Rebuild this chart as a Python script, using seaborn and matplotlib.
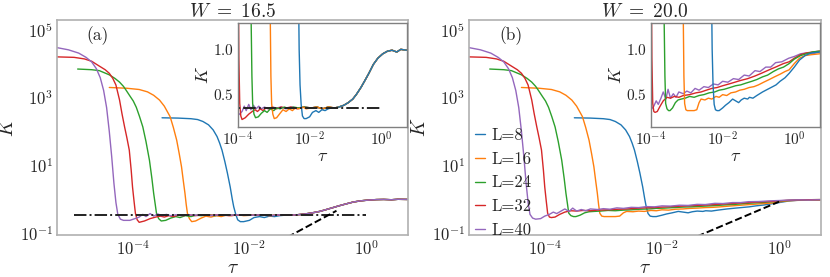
import pandas as pd
import seaborn as sns
import matplotlib
matplotlib.use('Agg')
import matplotlib.pyplot as plt
from matplotlib.ticker import NullLocator

# system sizes
sizes = ['L=8', 'L=16', 'L=24', 'L=32', 'L=40']

# early plateau + drop (same in both panels)
head_tau_8 = [3.2e-4, 6e-4, 1e-3, 1.3e-3, 1.6e-3, 2e-3, 2.4e-3, 2.8e-3, 3.1e-3, 3.4e-3, 3.8e-3, 4.2e-3, 4.7e-3, 5.1e-3, 5.4e-3, 5.8e-3]
head_k_8 = [250, 245, 235, 222, 195, 155, 110, 70, 45, 28, 13, 6, 2.3, 1.0, 0.6, 0.38]
head_tau_16 = [4e-5, 8e-5, 1.3e-4, 1.8e-4, 2.3e-4, 2.9e-4, 3.5e-4, 4.4e-4, 5e-4, 5.7e-4, 6.3e-4, 6.9e-4, 7.4e-4, 7.9e-4, 8.3e-4, 8.7e-4]
head_k_16 = [1950, 1850, 1700, 1450, 1150, 830, 550, 270, 130, 55, 22, 9, 3.5, 1.5, 0.7, 0.39]
head_tau_24 = [1.15e-5, 2e-5, 2.7e-5, 4e-5, 5e-5, 6e-5, 7e-5, 7.8e-5, 9e-5, 1.03e-4, 1.16e-4, 1.32e-4, 1.5e-4, 1.7e-4, 1.95e-4, 2.15e-4, 2.3e-4, 2.45e-4, 2.57e-4]
head_k_24 = [6800, 6500, 6100, 4600, 3600, 2800, 2100, 1600, 1100, 780, 510, 270, 135, 50, 14, 4, 1.5, 0.7, 0.39]
head_tau_32 = [5.1e-6, 1e-5, 1.5e-5, 2e-5, 2.7e-5, 3.4e-5, 4e-5, 4.6e-5, 5.2e-5, 6e-5, 6.6e-5, 7.3e-5, 8e-5, 8.8e-5, 9.5e-5, 1e-4, 1.06e-4, 1.12e-4]
head_k_32 = [15500, 15000, 13500, 11500, 8300, 6500, 5100, 3600, 2300, 830, 330, 137, 65, 28, 7, 2.3, 0.9, 0.39]
head_tau_40 = [5.1e-6, 8e-6, 1.2e-5, 1.6e-5, 2e-5, 2.4e-5, 2.8e-5, 3.2e-5, 3.6e-5, 4e-5, 4.4e-5, 4.8e-5, 5.2e-5, 5.6e-5]
head_k_40 = [29000, 25000, 20000, 15000, 11000, 7000, 3800, 1600, 500, 100, 18, 3, 0.8, 0.36]

# panel (a): W = 16.5, tails after the drop
tail_a_tau_8 = [6.3e-3, 7e-3, 8e-3, 1e-2, 1.2e-2, 1.5e-2, 1.8e-2, 2.2e-2, 2.7e-2, 3.3e-2, 4e-2]
tail_a_k_8 = [0.25, 0.22, 0.22, 0.24, 0.29, 0.31, 0.29, 0.32, 0.31, 0.33, 0.34]
tail_a_tau_16 = [9.4e-4, 1.03e-3, 1.2e-3, 1.5e-3, 1.8e-3, 2.2e-3, 2.7e-3, 3.3e-3, 4e-3, 5e-3, 6.5e-3, 8e-3, 1.1e-2, 1.6e-2, 2.3e-2, 3.3e-2]
tail_a_k_16 = [0.27, 0.22, 0.23, 0.28, 0.32, 0.30, 0.33, 0.31, 0.34, 0.33, 0.35, 0.33, 0.34, 0.35, 0.33, 0.35]
tail_a_tau_24 = [2.8e-4, 3.1e-4, 3.7e-4, 4.5e-4, 5.5e-4, 6.5e-4, 8e-4, 1e-3, 1.2e-3, 1.5e-3, 2e-3, 2.6e-3, 3.5e-3, 5e-3, 7e-3, 1.1e-2, 1.6e-2, 2.3e-2, 3.3e-2]
tail_a_k_24 = [0.27, 0.23, 0.24, 0.28, 0.31, 0.29, 0.33, 0.31, 0.34, 0.33, 0.35, 0.33, 0.35, 0.34, 0.35, 0.34, 0.35, 0.33, 0.35]
tail_a_tau_32 = [1.2e-4, 1.3e-4, 1.6e-4, 2e-4, 2.5e-4, 3e-4, 3.5e-4, 4.2e-4, 5e-4, 6e-4, 7.5e-4, 9e-4, 1.2e-3, 1.6e-3, 2.2e-3, 3e-3, 4.5e-3, 7e-3, 1.1e-2, 1.6e-2, 2.3e-2, 3.3e-2]
tail_a_k_32 = [0.25, 0.21, 0.23, 0.27, 0.30, 0.32, 0.30, 0.33, 0.31, 0.34, 0.33, 0.35, 0.33, 0.35, 0.34, 0.35, 0.33, 0.35, 0.34, 0.35, 0.33, 0.35]
tail_a_tau_40 = [6.2e-5, 7e-5, 9e-5, 1.1e-4, 1.3e-4, 1.5e-4, 1.7e-4, 2e-4, 2.3e-4, 2.7e-4, 3.2e-4, 3.8e-4, 4.5e-4, 5.5e-4, 7e-4, 9e-4, 1.2e-3, 1.6e-3, 2.2e-3, 3e-3, 4.5e-3, 7e-3, 1.1e-2, 1.6e-2, 2.3e-2, 3.3e-2]
tail_a_k_40 = [0.26, 0.24, 0.24, 0.27, 0.30, 0.36, 0.31, 0.38, 0.32, 0.37, 0.33, 0.36, 0.33, 0.35, 0.33, 0.35, 0.34, 0.35, 0.33, 0.35, 0.34, 0.35, 0.34, 0.35, 0.33, 0.35]
rise_a_tau = [5e-2, 6.5e-2, 9e-2, 0.12, 0.16, 0.2, 0.27, 0.35, 0.45, 0.6, 0.8, 1.1, 1.5, 2.0, 2.7, 3.5, 5.1]
rise_a_k = [0.34, 0.35, 0.37, 0.40, 0.44, 0.49, 0.57, 0.65, 0.73, 0.83, 0.90, 0.95, 0.98, 0.99, 0.97, 1.0, 0.99]

# panel (b): W = 20.0, tails after the drop
tail_b_tau_8 = [6.3e-3, 7e-3, 8e-3, 1e-2, 1.2e-2, 1.5e-2, 1.9e-2, 2.3e-2, 2.8e-2, 3.3e-2, 4e-2, 5e-2, 5.6e-2, 7e-2, 9e-2, 0.13, 0.18, 0.25, 0.31, 0.4, 0.55, 0.72, 1.0, 1.4, 2.0, 3.0, 5.1]
tail_b_k_8 = [0.32, 0.31, 0.31, 0.34, 0.37, 0.40, 0.44, 0.42, 0.40, 0.43, 0.45, 0.44, 0.46, 0.45, 0.48, 0.52, 0.55, 0.58, 0.60, 0.64, 0.68, 0.73, 0.80, 0.88, 0.93, 0.96, 0.97]
tail_b_tau_16 = [9.4e-4, 1.03e-3, 1.3e-3, 1.6e-3, 1.9e-3, 2.2e-3, 2.5e-3, 3.2e-3, 4e-3, 5e-3, 6.5e-3, 8e-3, 1e-2, 1.3e-2, 1.7e-2, 2.3e-2, 3e-2, 4e-2, 5.5e-2, 7.5e-2, 0.1, 0.14, 0.2, 0.28, 0.4, 0.55, 0.72, 1.0, 1.4, 2.0, 3.0, 5.1]
tail_b_k_16 = [0.32, 0.31, 0.31, 0.31, 0.32, 0.40, 0.44, 0.43, 0.45, 0.44, 0.47, 0.46, 0.49, 0.48, 0.51, 0.52, 0.54, 0.55, 0.57, 0.58, 0.60, 0.63, 0.66, 0.69, 0.72, 0.75, 0.77, 0.84, 0.90, 0.93, 0.94, 0.95]
tail_b_tau_24 = [2.8e-4, 3.1e-4, 3.4e-4, 4e-4, 4.8e-4, 5.7e-4, 7e-4, 9e-4, 1.2e-3, 1.6e-3, 2.2e-3, 3e-3, 4.2e-3, 6e-3, 8e-3, 1.1e-2, 1.6e-2, 2.3e-2, 3.2e-2, 4.5e-2, 6.5e-2, 9e-2, 0.13, 0.18, 0.26, 0.36, 0.5, 0.72, 1.0, 1.5, 2.2, 3.2, 5.1]
tail_b_k_24 = [0.33, 0.31, 0.31, 0.34, 0.40, 0.43, 0.44, 0.45, 0.47, 0.46, 0.48, 0.49, 0.51, 0.52, 0.54, 0.55, 0.57, 0.59, 0.60, 0.62, 0.64, 0.66, 0.69, 0.71, 0.75, 0.78, 0.80, 0.84, 0.89, 0.93, 0.95, 0.97, 0.98]
tail_b_tau_32 = [1.2e-4, 1.3e-4, 1.5e-4, 1.8e-4, 2.2e-4, 2.8e-4, 3.5e-4, 4.5e-4, 6e-4, 8e-4, 1.2e-3, 1.8e-3, 2.5e-3, 3.5e-3, 5e-3, 7e-3, 1e-2, 1.5e-2, 2.2e-2, 3.2e-2, 5e-2, 8e-2, 0.12, 0.2, 0.3, 0.5, 0.72, 1.0, 1.5, 2.2, 3.2, 5.1]
tail_b_k_32 = [0.30, 0.29, 0.30, 0.36, 0.42, 0.46, 0.45, 0.47, 0.46, 0.48, 0.49, 0.51, 0.52, 0.54, 0.56, 0.57, 0.59, 0.61, 0.63, 0.65, 0.67, 0.70, 0.73, 0.77, 0.80, 0.84, 0.86, 0.90, 0.94, 0.96, 0.97, 0.98]
tail_b_tau_40 = [6.2e-5, 7e-5, 8.5e-5, 1e-4, 1.2e-4, 1.4e-4, 1.6e-4, 1.9e-4, 2.2e-4, 2.6e-4, 3e-4, 3.5e-4, 4.2e-4, 5e-4, 6e-4, 8e-4, 1e-3, 1.3e-3, 1.7e-3, 2.2e-3, 3e-3, 4e-3, 5.5e-3, 7.5e-3, 1e-2, 1.4e-2, 2e-2, 2.8e-2, 4e-2, 5.5e-2, 8e-2, 0.11, 0.16, 0.22, 0.3, 0.45, 0.7, 1.0, 1.5, 2.2, 3.2, 5.1]
tail_b_k_40 = [0.28, 0.26, 0.27, 0.32, 0.36, 0.42, 0.38, 0.45, 0.52, 0.44, 0.55, 0.45, 0.50, 0.46, 0.52, 0.50, 0.53, 0.51, 0.56, 0.54, 0.58, 0.57, 0.61, 0.60, 0.64, 0.63, 0.67, 0.66, 0.71, 0.70, 0.76, 0.75, 0.80, 0.80, 0.85, 0.86, 0.90, 0.92, 0.95, 0.96, 0.95, 0.97]

# reference lines
dashdot_a_tau = [1e-5, 1.0]
dashdot_a_k = [0.34, 0.34]
dashed_a_tau = [0.045, 0.31]
dashed_a_k = [0.077, 0.46]
dashed_b_tau = [0.04, 1.0]
dashed_b_k = [0.081, 0.85]

heads = {
    'L=8': (head_tau_8, head_k_8), 'L=16': (head_tau_16, head_k_16),
    'L=24': (head_tau_24, head_k_24), 'L=32': (head_tau_32, head_k_32),
    'L=40': (head_tau_40, head_k_40),
}
tails_a = {
    'L=8': (tail_a_tau_8, tail_a_k_8), 'L=16': (tail_a_tau_16, tail_a_k_16),
    'L=24': (tail_a_tau_24, tail_a_k_24), 'L=32': (tail_a_tau_32, tail_a_k_32),
    'L=40': (tail_a_tau_40, tail_a_k_40),
}
tails_b = {
    'L=8': (tail_b_tau_8, tail_b_k_8), 'L=16': (tail_b_tau_16, tail_b_k_16),
    'L=24': (tail_b_tau_24, tail_b_k_24), 'L=32': (tail_b_tau_32, tail_b_k_32),
    'L=40': (tail_b_tau_40, tail_b_k_40),
}

rows = []
for lab in sizes:
    ht, hk = heads[lab]
    at, ak = tails_a[lab]
    bt, bk = tails_b[lab]
    for t, k in zip(ht + at + rise_a_tau, hk + ak + rise_a_k):
        rows.append(('a', lab, t, k))
    for t, k in zip(ht + bt, hk + bk):
        rows.append(('b', lab, t, k))
df = pd.DataFrame(rows, columns=['panel', 'L', 'tau', 'K'])

sns.set_style('white')
plt.rcParams['font.family'] = 'serif'
plt.rcParams['font.serif'] = ['cmr10']
plt.rcParams['mathtext.fontset'] = 'cm'
plt.rcParams['axes.formatter.use_mathtext'] = True

pal = dict(zip(sizes, sns.color_palette('tab10', 5)))

fig = plt.figure(figsize=(8.3, 2.77), dpi=100)
ax_a = fig.add_axes([0.0687, 0.1534, 0.4229, 0.7762])
ax_b = fig.add_axes([0.5651, 0.1534, 0.4241, 0.7762])
in_a = fig.add_axes([0.2867, 0.543, 0.2036, 0.375])
in_b = fig.add_axes([0.7843, 0.543, 0.2036, 0.375])

for ax, panel, w, tag in [(ax_a, 'a', '16.5', '(a)'), (ax_b, 'b', '20.0', '(b)')]:
    d = df[df['panel'] == panel]
    sns.lineplot(data=d, x='tau', y='K', hue='L', hue_order=sizes, palette=pal,
                 estimator=None, sort=False, lw=1.0, ax=ax, legend=(panel == 'b'))
    ax.set_xscale('log')
    ax.set_yscale('log')
    ax.set_xlim(5.1e-6, 5.2)
    ax.set_ylim(0.092, 1.95e5)
    ax.set_xticks([1e-4, 1e-2, 1e0])
    ax.set_yticks([1e-1, 1e1, 1e3, 1e5])
    ax.xaxis.set_minor_locator(NullLocator())
    ax.yaxis.set_minor_locator(NullLocator())
    ax.tick_params(direction='in', length=3, color='#999999', labelsize=12, pad=3)
    ax.set_xlabel(r'$\tau$', fontsize=14, labelpad=1)
    ax.set_ylabel(r'$K$', fontsize=14, labelpad=2)
    ax.set_title(r'$W\ =\ %s$' % w, fontsize=14, pad=2)
    ax.text(0.085, 0.925, tag, transform=ax.transAxes, fontsize=12.5, va='center', ha='left')
    for s in ax.spines.values():
        s.set_color('#b0b0b0')
        s.set_linewidth(1.2)

sns.lineplot(x=dashdot_a_tau, y=dashdot_a_k, color='#222222', ls='-.', lw=1.4, ax=ax_a)
sns.lineplot(x=dashed_a_tau, y=dashed_a_k, color='black', ls='--', lw=1.4, ax=ax_a)
sns.lineplot(x=dashed_b_tau, y=dashed_b_k, color='black', ls='--', lw=1.4, ax=ax_b)

ax_b.legend(loc='lower left', bbox_to_anchor=(0.008, -0.03), frameon=False, fontsize=12,
            handlelength=0.6, handletextpad=0.4, borderaxespad=0.0, borderpad=0.2,
            labelspacing=0.5)

for ax, panel in [(in_a, 'a'), (in_b, 'b')]:
    d = df[df['panel'] == panel]
    sns.lineplot(data=d, x='tau', y='K', hue='L', hue_order=sizes[::-1], palette=pal,
                 estimator=None, sort=False, lw=1.0, ax=ax, legend=False)
    ax.set_xscale('log')
    ax.set_xlim(1e-4, 5.2)
    ax.set_ylim(0.13, 1.3)
    ax.set_xticks([1e-4, 1e-2, 1e0])
    ax.set_yticks([0.5, 1.0])
    ax.xaxis.set_minor_locator(NullLocator())
    ax.tick_params(direction='in', length=3, color='#777777', labelsize=11, pad=3)
    ax.set_xlabel(r'$\tau$', fontsize=13, labelpad=0)
    ax.set_ylabel(r'$K$', fontsize=13, labelpad=1)
    for s in ax.spines.values():
        s.set_color('#808080')
        s.set_linewidth(1.0)

sns.lineplot(x=dashdot_a_tau, y=dashdot_a_k, color='#222222', ls='-.', lw=1.4, ax=in_a)

fig.savefig('out.png', dpi=100)
